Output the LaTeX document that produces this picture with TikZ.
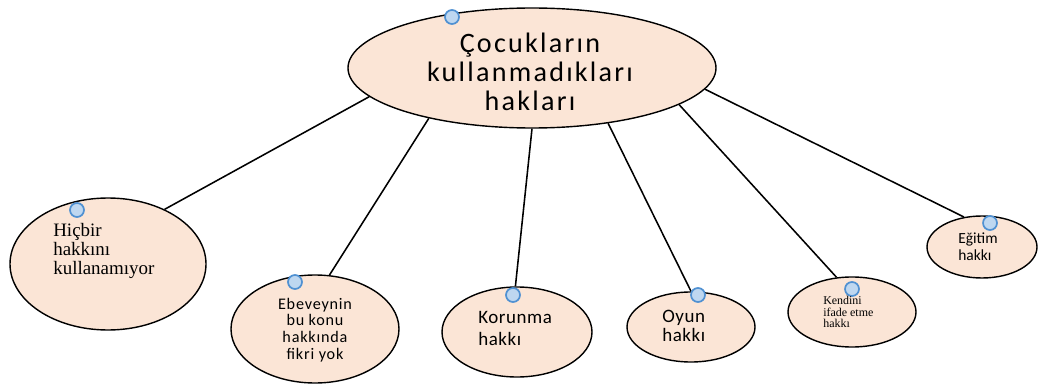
\documentclass[tikz,border=0pt]{standalone}
\usepackage{fontspec}
\setmainfont{Liberation Serif}
\newfontfamily\calibri{Carlito}
\usetikzlibrary{shapes.geometric}
\definecolor{peach}{RGB}{251,229,214}
\definecolor{dotfill}{RGB}{190,215,240}
\definecolor{dotline}{RGB}{80,145,210}
\tikzset{
  bubble/.style={ellipse, draw, line width=1pt, fill=peach, inner sep=0pt},
  dot/.style={draw=dotline, fill=dotfill, line width=1.2pt},
  label text/.style={inner sep=0pt, align=left, anchor=west}
}
\begin{document}
\begin{tikzpicture}
\useasboundingbox (0, 0) rectangle (25.975, 9.75);
\path (13.3, 8.05) node[bubble, minimum width=9.2cm, minimum height=3cm] (main) {}
      (2.7, 3.15) node[bubble, minimum width=4.9cm, minimum height=3.3cm] (hicbir) {}
      (7.875, 1.525) node[bubble, minimum width=4.2cm, minimum height=2.7cm] (ebeveyn) {}
      (12.925, 1.45) node[bubble, minimum width=3.75cm, minimum height=2.25cm] (korunma) {}
      (17.275, 1.575) node[bubble, minimum width=3.2cm, minimum height=1.75cm] (oyun) {}
      (21.3, 1.95) node[bubble, minimum width=3.2cm, minimum height=1.75cm] (kendini) {}
      (24.55, 3.575) node[bubble, minimum width=2.75cm, minimum height=1.55cm] (egitim) {};
\draw[line width=1.1pt] (main.190) to (hicbir.44)
      (main.206) to (ebeveyn.75)
      (main.270) to (korunma.92)
      (main.324) to (oyun.90)
      (main.346) to (kendini.114)
      (main.353) to (egitim.121);
\filldraw[dot] (11.3, 9.325) circle (0.175)
      (1.925, 4.5) circle (0.175)
      (7.375, 2.7) circle (0.175)
      (12.825, 2.375) circle (0.175)
      (17.45, 2.375) circle (0.175)
      (21.3, 2.525) circle (0.175)
      (24.75, 4.175) circle (0.175);
\path (13.25, 7.95) node[inner sep=0pt, align=center,
        font={\calibri\addfontfeature{LetterSpace=8}\fontsize{20}{20.6}\selectfont}] (maintext)
        {Çocukların\\kullanmadıkları\\hakları}
      (1.325, 3.475) node[label text, font={\fontsize{13.5}{13.5}\selectfont}] (hicbirtext)
        {Hiçbir\\hakkını\\kullanamıyor}
      (7.875, 1.5) node[inner sep=0pt, align=center,
        font={\calibri\addfontfeature{LetterSpace=5}\fontsize{11.5}{12}\selectfont}] (ebeveyntext)
        {Ebeveynin\\bu konu\\hakkında\\fikri yok}
      (11.95, 1.54) node[label text,
        font={\calibri\addfontfeature{LetterSpace=3}\fontsize{13.5}{16}\selectfont}] (korunmatext)
        {Korunma\\hakkı}
      (16.55, 1.6) node[label text,
        font={\calibri\addfontfeature{LetterSpace=3}\fontsize{13.5}{14}\selectfont}] (oyuntext)
        {Oyun\\hakkı}
      (20.575, 1.95) node[label text, font={\fontsize{8.5}{8.2}\selectfont}] (kendinitext)
        {Kendini\\ifade etme\\hakkı}
      (23.95, 3.5875) node[label text,
        font={\calibri\fontsize{11}{12}\selectfont}] (egitimtext)
        {Eğitim\\hakkı};
\end{tikzpicture}
\end{document}
